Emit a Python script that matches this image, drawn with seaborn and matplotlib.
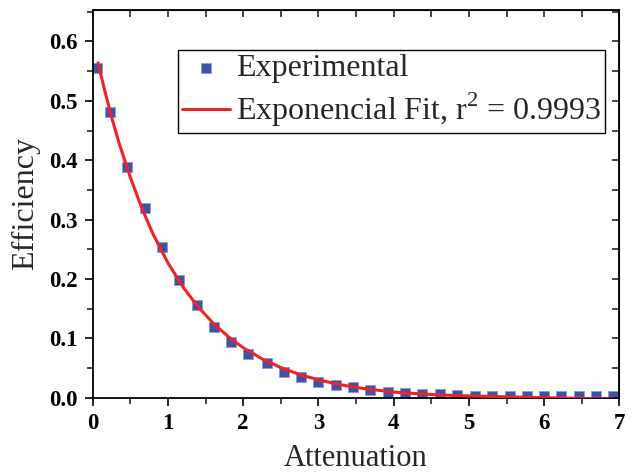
import matplotlib
matplotlib.use("Agg")
import matplotlib.pyplot as plt
import seaborn as sns
import pandas as pd
from matplotlib.ticker import MultipleLocator

attenuation = [0.06, 0.23, 0.46, 0.69, 0.92, 1.15, 1.38, 1.61, 1.84, 2.07, 2.31,
               2.54, 2.77, 3.00, 3.23, 3.46, 3.69, 3.92, 4.15, 4.38, 4.61, 4.84,
               5.08, 5.31, 5.54, 5.77, 6.00, 6.23, 6.46, 6.69, 6.92]
efficiency = [0.556, 0.481, 0.388, 0.319, 0.254, 0.198, 0.156, 0.119, 0.093, 0.073,
              0.058, 0.044, 0.035, 0.027, 0.022, 0.0175, 0.013, 0.010, 0.008, 0.0065,
              0.0056, 0.0045, 0.0036, 0.0034, 0.0032, 0.0030, 0.0028, 0.0027, 0.0026,
              0.0025, 0.0024]

# Exponential fit curve
fit_x = [0.07, 0.15, 0.25, 0.35, 0.5, 0.65, 0.8, 1.0, 1.2, 1.4, 1.6, 1.8, 2.0,
         2.25, 2.5, 2.75, 3.0, 3.3, 3.6, 4.0, 4.4, 4.8, 5.2, 5.6, 6.0, 6.5, 6.92]
fit_y = [0.564, 0.522, 0.473, 0.429, 0.371, 0.320, 0.276, 0.227, 0.1865, 0.153,
         0.1256, 0.103, 0.0842, 0.0655, 0.0507, 0.0391, 0.0301, 0.0217, 0.0155,
         0.0095, 0.0060, 0.0038, 0.0025, 0.0012, 0.0002, -0.0012, -0.0022]

x_ticks = [0, 1, 2, 3, 4, 5, 6, 7]
y_ticks = [0.0, 0.1, 0.2, 0.3, 0.4, 0.5, 0.6]

sns.set_style("ticks")
plt.rcParams['font.family'] = ['Liberation Serif', 'DejaVu Serif']
plt.rcParams['mathtext.fontset'] = 'custom'
plt.rcParams['mathtext.rm'] = 'Liberation Serif'

df_exp = pd.DataFrame({"Attenuation": attenuation, "Efficiency": efficiency})
df_fit = pd.DataFrame({"Attenuation": fit_x, "Efficiency": fit_y})

fig = plt.figure(figsize=(6.33, 4.75), dpi=100)
ax = fig.add_axes([0.1465, 0.1627, 0.832, 0.8163])

sns.scatterplot(data=df_exp, x="Attenuation", y="Efficiency", ax=ax, marker='s',
                s=52, color='#3B54A5', edgecolor='#8C9BD2', linewidth=0.6,
                label='Experimental', zorder=2)
sns.lineplot(data=df_fit, x="Attenuation", y="Efficiency", ax=ax, color='#EE2228',
             linewidth=2.2, label=r'Exponencial Fit, r$^\mathregular{2}$ = 0.9993',
             zorder=3, sort=False)

ax.set_xlim(0, 7)
ax.set_ylim(0, 0.653)
ax.set_xticks(x_ticks)
ax.set_yticks(y_ticks)
ax.xaxis.set_minor_locator(MultipleLocator(0.5))
ax.yaxis.set_minor_locator(MultipleLocator(0.05))
ax.set_xticklabels([str(t) for t in x_ticks])
ax.set_yticklabels([f"{t:.1f}" for t in y_ticks])

for s in ax.spines.values():
    s.set_visible(True)
    s.set_linewidth(1.3)
    s.set_color('black')

ax.tick_params(axis='both', which='major', direction='out', length=6, width=1.2,
               labelsize=16.5, pad=5, colors='black')
ax.tick_params(axis='both', which='minor', direction='out', length=4, width=1.2)
for lab in ax.get_xticklabels() + ax.get_yticklabels():
    lab.set_fontweight('bold')

# mirrored ticks on top/right pointing inward
axt = ax.secondary_xaxis('top')
axt.set_xticks([0, 0.5, 1, 1.5, 2, 2.5, 3, 3.5, 4, 4.5, 5, 5.5, 6, 6.5, 7])
axt.tick_params(direction='in', length=5, width=1.2, labeltop=False)
axt.set_xticklabels([])
axr = ax.secondary_yaxis('right')
axr.set_yticks([0.0, 0.05, 0.1, 0.15, 0.2, 0.25, 0.3, 0.35, 0.4, 0.45, 0.5, 0.55, 0.6, 0.65])
axr.tick_params(direction='in', length=5, width=1.2, labelright=False)
axr.set_yticklabels([])

ax.set_xlabel("Attenuation", fontsize=22, labelpad=7)
ax.set_ylabel("Efficiency", fontsize=23, labelpad=6)

leg = ax.legend(loc='upper right', bbox_to_anchor=(0.9735, 0.897), fontsize=23,
                frameon=True, fancybox=False, shadow=False, framealpha=1,
                edgecolor='black', handlelength=1.5, handletextpad=0.2,
                borderpad=0.12, labelspacing=0.25, borderaxespad=0, markerscale=0.9)
leg.get_frame().set_linewidth(1.0)

fig.savefig("out.png", dpi=100)
